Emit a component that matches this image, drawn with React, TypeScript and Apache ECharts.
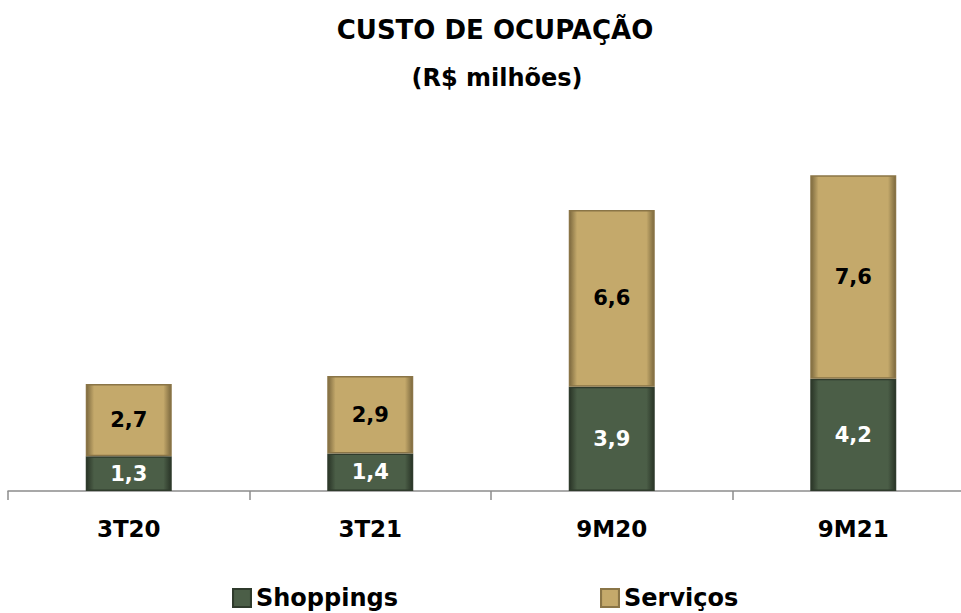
import React, { useEffect, useRef } from "react";
import * as echarts from "echarts";

const categories = ["3T20", "3T21", "9M20", "9M21"];
const shoppings = [1.3, 1.4, 3.9, 4.2];
const servicos = [2.7, 2.9, 6.6, 7.6];
const seriesNames = ["Shoppings", "Serviços"];
const titleText = "CUSTO DE OCUPAÇÃO";
const subtitleText = "(R$ milhões)";

const FONT = "DejaVu Sans";

function bevel(dark: string, main: string) {
  return new echarts.graphic.LinearGradient(0, 0, 1, 0, [
    { offset: 0, color: dark },
    { offset: 0.09, color: main },
    { offset: 0.91, color: main },
    { offset: 1, color: dark },
  ]);
}

export default function App() {
  const ref = useRef<HTMLDivElement>(null);
  useEffect(() => {
    if (!ref.current) return;
    const chart = echarts.init(ref.current, undefined, { renderer: "svg" });
    const fmt = (p: any) => String(p.value).replace(".", ",");
    const legendText = { fontFamily: FONT, fontWeight: "bold", fontSize: 24, lineHeight: 24, color: "#000" };
    chart.setOption({
      animation: false,
      graphic: [
        {
          type: "text",
          x: 495,
          y: 30,
          style: {
            text: titleText,
            textAlign: "center",
            textVerticalAlign: "middle",
            fontFamily: FONT,
            fontWeight: "bold",
            fontSize: 26,
            fill: "#000",
          },
        },
        {
          type: "text",
          x: 497,
          y: 78,
          style: {
            text: subtitleText,
            textAlign: "center",
            textVerticalAlign: "middle",
            fontFamily: FONT,
            fontWeight: "bold",
            fontSize: 24,
            fill: "#000",
          },
        },
      ],
      legend: [
        {
          data: [seriesNames[0]],
          left: 232,
          top: 586,
          padding: 0,
          itemWidth: 18,
          itemHeight: 18,
          icon: "rect",
          textStyle: legendText,
        },
        {
          data: [seriesNames[1]],
          left: 600,
          top: 586,
          padding: 0,
          itemWidth: 18,
          itemHeight: 18,
          icon: "rect",
          textStyle: legendText,
        },
      ],
      grid: { left: 8, right: -13, top: 170, bottom: 122, outerBoundsMode: "none", containLabel: false },
      xAxis: {
        type: "category",
        data: categories,
        axisLine: { lineStyle: { color: "#8c8c8c", width: 1.5 } },
        axisTick: { show: true, length: 9, lineStyle: { color: "#8c8c8c", width: 1.5 } },
        axisLabel: {
          margin: 26,
          fontFamily: FONT,
          fontWeight: "bold",
          fontSize: 23,
          color: "#000",
        },
      },
      yAxis: {
        type: "value",
        min: 0,
        max: 12,
        show: false,
        splitLine: { show: false },
      },
      series: [
        {
          name: seriesNames[0],
          type: "bar",
          stack: "total",
          barWidth: 86,
          data: shoppings,
          itemStyle: {
            color: bevel("#2a3527", "#4b5e47"),
            borderColor: "#2f3b2c",
            borderWidth: 1.5,
          },
          label: {
            show: true,
            position: "inside",
            formatter: fmt,
            fontFamily: FONT,
            fontWeight: "bold",
            fontSize: 21,
            color: "#fff",
          },
        },
        {
          name: seriesNames[1],
          type: "bar",
          stack: "total",
          barWidth: 86,
          data: servicos,
          itemStyle: {
            color: bevel("#7d6a3f", "#c4a96b"),
            borderColor: "#8a7547",
            borderWidth: 1.5,
          },
          label: {
            show: true,
            position: "inside",
            formatter: fmt,
            fontFamily: FONT,
            fontWeight: "bold",
            fontSize: 21,
            color: "#000",
          },
        },
      ],
    });
    return () => chart.dispose();
  }, []);
  return (
    <div
      ref={ref}
      style={{ position: "fixed", left: 0, top: 0, width: 961, height: 613, background: "#fff" }}
    />
  );
}
